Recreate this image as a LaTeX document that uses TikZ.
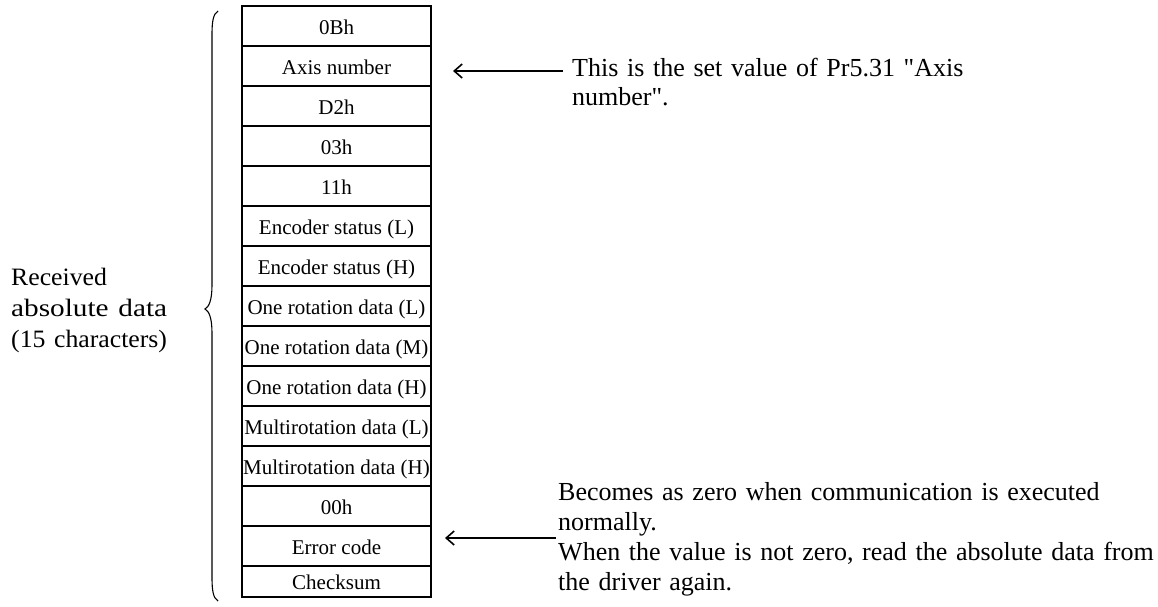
\documentclass[tikz,border=0pt]{standalone}
\usepackage{fontspec}
\setmainfont{Liberation Serif}[Ligatures=TeXOff]
\usetikzlibrary{arrows.meta}
\begin{document}
\begin{tikzpicture}[x=1pt,y=-1pt,
  cell/.style={draw, line width=1.6pt, minimum width=189pt, minimum height=40pt,
    inner sep=0pt, text height=16pt, text depth=0pt, font=\fontsize{21}{25}\selectfont},
  note/.style={anchor=base west, inner sep=0pt, text width=600pt, align=left},
  arr/.style={line width=1.6pt, -{Straight Barb[length=8pt,width=14pt,line width=1.6pt]}},
  brace/.style={line width=1.1pt}]
\useasboundingbox (0,0) rectangle (1158,606);

% frame of the 15 received characters
\foreach \t [count=\i] in {{0Bh},{Axis number},{D2h},{03h},{11h},
    {Encoder status (L)},{Encoder status (H)},{One rotation data (L)},
    {One rotation data (M)},{One rotation data (H)},{Multirotation data (L)},
    {Multirotation data (H)},{00h},{Error code}}
  \node[cell] (r\i) at (336.5,{6+40*\i-20}) {\t};
\node[cell, minimum height=31pt] (r15) at (336.5,581.5) {Checksum};

% brace grouping the whole frame
\draw[brace] (218,11) .. controls (213,14) and (212,22) .. (212,35) -- (212,285)
  .. controls (212,300) and (209,307) .. (205,309)
  .. controls (209,311) and (212,318) .. (212,333) -- (212,577)
  .. controls (212,590) and (213,598) .. (218,601);

\node[note, text width=200pt, font=\fontsize{25}{31}\selectfont] (lbl) at (11,285)
  {\scalebox{1.03}[1]{Received}\\\scalebox{1.17}[1]{absolute data}\\\scalebox{1.03}[1]{(15 characters)}};

% note on the axis number
\node[note, font=\fontsize{26}{29}\selectfont] (n1) at (572,76)
  {This is the set value of Pr5.31 "Axis\\number".};
\coordinate (q1) at (563,71);
\coordinate (p1) at (453,71);
\draw[arr] (q1) -- (p1);

% note on the error code
\node[note, font=\fontsize{26}{30}\selectfont] (n2) at (558,500)
  {Becomes as zero when communication is executed\\normally.\\When the value is not zero, read the absolute data from\\the driver again.};
\coordinate (q2) at (556,538);
\coordinate (p2) at (445,538);
\draw[arr] (q2) -- (p2);
\end{tikzpicture}
\end{document}
